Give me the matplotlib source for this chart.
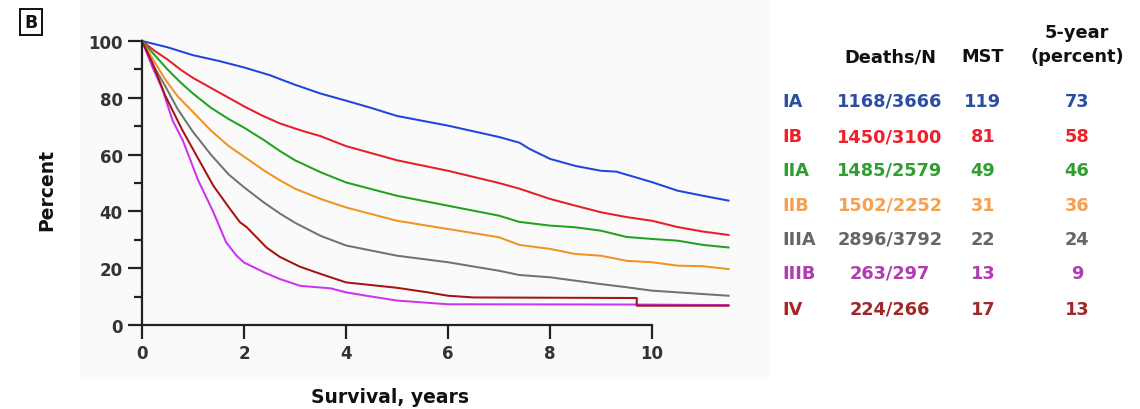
import matplotlib
matplotlib.use("Agg")
import matplotlib.pyplot as plt
from matplotlib.patches import Rectangle

W, H = 1140, 410

stages = ["IA", "IB", "IIA", "IIB", "IIIA", "IIIB", "IV"]
deaths_n = ["1168/3666", "1450/3100", "1485/2579", "1502/2252", "2896/3792", "263/297", "224/266"]
mst = ["119", "81", "49", "31", "22", "13", "17"]
five_year = ["73", "58", "46", "36", "24", "9", "13"]

t_IA = [0, 0.5, 1, 1.5, 2, 2.5, 3, 3.5, 4, 4.5, 5, 6, 7, 7.4, 7.6, 8, 8.5, 9, 9.3, 10, 10.5, 11, 11.5]
s_IA = [100, 97.8, 95, 93, 90.7, 88, 84.6, 81.5, 79, 76.4, 73.6, 70.2, 66.2, 64.2, 62, 58.5, 56, 54.3, 54, 50.3, 47.3, 45.5, 43.8]

t_IB = [0, 0.25, 0.5, 0.75, 1, 1.4, 1.7, 2, 2.35, 2.7, 3.1, 3.5, 4, 5, 6, 7, 7.4, 8, 8.5, 9, 9.5, 10, 10.5, 11, 11.5]
s_IB = [100, 96.5, 93.5, 90, 87, 83, 80, 77, 73.8, 71, 68.6, 66.5, 63, 58, 54.3, 50, 48, 44.4, 42, 39.7, 38, 36.7, 34.5, 32.9, 31.7]

t_IIA = [0, 0.1, 0.25, 0.5, 0.75, 1, 1.35, 1.7, 2, 2.4, 2.7, 3, 3.5, 4, 5, 6, 7, 7.4, 8, 8.5, 9, 9.5, 10, 10.5, 11, 11.5]
s_IIA = [100, 98, 95, 90, 85.5, 81.5, 76.5, 72.5, 69.5, 65, 61.3, 58, 53.8, 50.2, 45.5, 42, 38.5, 36.3, 35, 34.4, 33.2, 31, 30.3, 29.7, 28.2, 27.3]

t_IIB = [0, 0.1, 0.2, 0.45, 0.7, 1, 1.35, 1.7, 2, 2.4, 2.7, 3, 3.5, 4, 5, 6, 7, 7.4, 8, 8.5, 9, 9.5, 10, 10.5, 11, 11.5]
s_IIB = [100, 97, 94, 86.6, 80.5, 75, 68.5, 63, 59.3, 54.3, 51, 48, 44.4, 41.4, 36.7, 33.8, 30.9, 28.2, 26.8, 25, 24.4, 22.6, 22.1, 20.9, 20.7, 19.7]

t_IIIA = [0, 0.1, 0.2, 0.45, 0.7, 1, 1.35, 1.7, 2, 2.4, 2.7, 3, 3.5, 4, 5, 6, 7, 7.4, 8, 8.5, 9, 9.5, 10, 10.5, 11, 11.5]
s_IIIA = [100, 96, 92, 84.3, 76, 68, 60, 53, 48.5, 43, 39.3, 36, 31.4, 28, 24.4, 22.1, 19.1, 17.6, 16.8, 15.6, 14.4, 13.3, 12.1, 11.5, 10.9, 10.3]

t_IIIB = [0, 0.2, 0.4, 0.6, 0.8, 1.1, 1.4, 1.65, 1.85, 2, 2.4, 2.7, 3.1, 3.7, 4, 4.4, 5, 6, 9.7, 11.5]
s_IIIB = [100, 91, 83, 72, 65, 51, 39.7, 29.1, 24.5, 22, 18.5, 16.2, 13.8, 12.9, 11.5, 10.3, 8.6, 7.3, 7.2, 7.0]

t_IV = [0, 0.2, 0.45, 0.78, 1.07, 1.4, 1.72, 1.92, 2.05, 2.44, 2.7, 3.1, 3.5, 4, 5, 5.6, 6, 6.5, 9.7, 9.7, 11.5]
s_IV = [100, 92.5, 81, 69, 59.6, 49, 41, 36.2, 34.5, 27.3, 24, 20.5, 18, 15, 13.1, 11.5, 10.3, 9.7, 9.5, 6.8, 6.8]

times = [t_IA, t_IB, t_IIA, t_IIB, t_IIIA, t_IIIB, t_IV]
survs = [s_IA, s_IB, s_IIA, s_IIB, s_IIIA, s_IIIB, s_IV]

line_colors = ["#2442e0", "#e61e2a", "#1fa31f", "#f39222", "#6a7676", "#cc33ee", "#a51414"]
text_colors = ["#2c4ea0", "#f0202a", "#2e9e2e", "#f7a050", "#666666", "#b03cb0", "#a02828"]

plt.rcParams['font.family'] = ['DejaVu Sans']

fig = plt.figure(figsize=(W / 100, H / 100), dpi=100)
fig.patch.set_facecolor("white")
bg = Rectangle((80 / W, 1 - 380 / H), (770 - 80) / W, 380 / H,
               transform=fig.transFigure, facecolor="#fafafa",
               edgecolor="none", zorder=-10)
fig.add_artist(bg)

x0, x1 = 142, 142 + 51 * 11.7
ytop, ybot = 42, 326
ax = fig.add_axes([x0 / W, 1 - ybot / H, (x1 - x0) / W, (ybot - ytop) / H])
ax.set_zorder(5)
ax.set_facecolor("none")

for t, s, c in zip(times, survs, line_colors):
    ax.plot(t, s, color=c, lw=1.45, clip_on=False)

ax.set_xlim(0, 11.7)
ax.set_ylim(0, 100)
for sp in ["top", "right"]:
    ax.spines[sp].set_visible(False)
for sp in ["left", "bottom"]:
    ax.spines[sp].set_linewidth(1.6)
    ax.spines[sp].set_color("#222222")
ax.spines["bottom"].set_bounds(0, 10)

ax.set_xticks([0, 2, 4, 6, 8, 10])
ax.set_yticks([0, 20, 40, 60, 80, 100])
ax.set_yticks([10, 30, 50, 70, 90], minor=True)
ax.tick_params(axis="both", which="major", length=10, width=1.6, color="#222222",
               labelsize=12, labelcolor="#333333", pad=4)
ax.tick_params(axis="y", which="minor", length=6, width=1.6, color="#222222")
for lab in ax.get_xticklabels() + ax.get_yticklabels():
    lab.set_fontweight("bold")

fig.text(47 / W, 1 - 190 / H, "Percent", rotation=90, ha="center", va="center",
         fontsize=13.5, fontweight="bold", color="#111111")
fig.text(390 / W, 1 - 398 / H, "Survival, years", ha="center", va="center",
         fontsize=13.5, fontweight="bold", color="#111111")

fig.text(31 / W, 1 - 23 / H, "B", ha="center", va="center", fontsize=12.5,
         fontweight="bold", color="#111111",
         bbox=dict(boxstyle="square,pad=0.25", fc="white", ec="#111111", lw=1.4))

# table
col_label_x = 782
col_dn_x = 890
col_mst_x = 983
col_5y_x = 1077
fs = 12.8
fig.text(col_dn_x / W, 1 - 57 / H, "Deaths/N", ha="center", va="center", fontsize=fs,
         fontweight="bold", color="#111111")
fig.text(col_mst_x / W, 1 - 57 / H, "MST", ha="center", va="center", fontsize=fs,
         fontweight="bold", color="#111111")
fig.text(col_5y_x / W, 1 - 33 / H, "5-year", ha="center", va="center", fontsize=fs,
         fontweight="bold", color="#111111")
fig.text(col_5y_x / W, 1 - 57 / H, "(percent)", ha="center", va="center", fontsize=fs,
         fontweight="bold", color="#111111")

row_y = [102, 137, 171, 206, 240, 274, 310]
for i, st in enumerate(stages):
    y = 1 - row_y[i] / H
    c = text_colors[i]
    fig.text(col_label_x / W, y, st, ha="left", va="center", fontsize=fs, fontweight="bold", color=c)
    fig.text(col_dn_x / W, y, deaths_n[i], ha="center", va="center", fontsize=fs, fontweight="bold", color=c)
    fig.text(col_mst_x / W, y, mst[i], ha="center", va="center", fontsize=fs, fontweight="bold", color=c)
    fig.text(col_5y_x / W, y, five_year[i], ha="center", va="center", fontsize=fs, fontweight="bold", color=c)

fig.savefig("out.png", dpi=100, facecolor="white")
